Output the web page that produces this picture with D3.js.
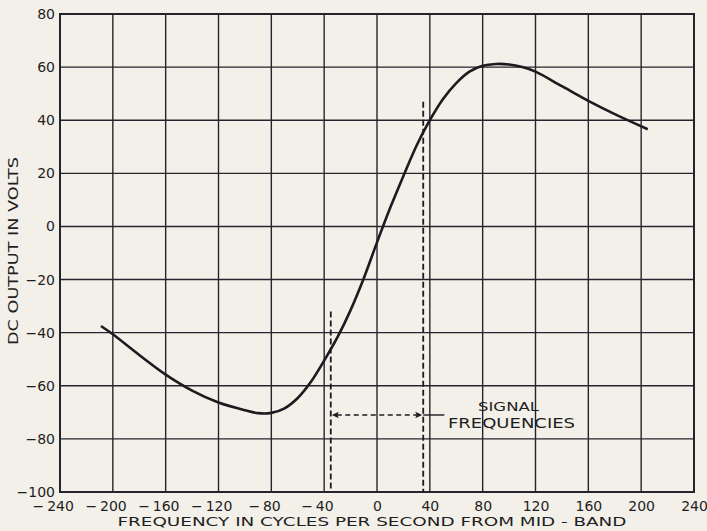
<!DOCTYPE html>
<html>
<head>
<meta charset="utf-8">
<script src="https://cdn.jsdelivr.net/npm/d3@7"></script>
<style>
  html, body { margin: 0; padding: 0; background: #f3f0e9; }
  svg { display: block; }
</style>
</head>
<body>
<svg id="chart" width="707" height="531"></svg>
<script>
// Discriminator response: DC output vs. frequency offset from mid-band
const freqHz = [-209, -200, -180, -160, -140, -120, -100, -90, -80, -70, -60, -50, -40, -30,
                -20, -10, 0, 10, 20, 30, 40, 50, 60, 70, 80, 90, 100, 110, 120,
                140, 160, 180, 205];
const dcVolts = [-37.5, -40.6, -48.4, -55.8, -61.8, -66.3, -69.2, -70.3, -70.2, -68.5, -64.6, -58.5, -50.5, -41.8,
                 -31.5, -19.5, -6, 7, 19, 30.5, 40, 48, 54, 58.3, 60.5, 61.2, 61, 60, 58.3,
                 52.8, 47.3, 42.3, 36.6];

const xTicks = [-240, -200, -160, -120, -80, -40, 0, 40, 80, 120, 160, 200, 240];
const yTicks = [-100, -80, -60, -40, -20, 0, 20, 40, 60, 80];

// Signal band edges and annotation levels (Hz / volts)
const bandEdges = [-35, 35];
const bandTops = [-32, 47];
const arrowLevel = -71;
const leaderEnd = 51;
const noteLines = ["SIGNAL", "FREQUENCIES"];

const FONT = "'DejaVu Sans', sans-serif";
const TEXT_INK = "#1e1e22";

const svg = d3.select("#chart");
const plotL = 60, plotR = 694, plotT = 14, plotB = 492;

const x = d3.scaleLinear().domain([-240, 240]).range([plotL, plotR]);
const y = d3.scaleLinear().domain([-100, 80]).range([plotB, plotT]);

const ink = "#24242c";

// grid
const g = svg.append("g");
g.selectAll("line.v").data(xTicks.slice(1, -1)).join("line")
  .attr("x1", d => x(d)).attr("x2", d => x(d))
  .attr("y1", plotT).attr("y2", plotB)
  .attr("stroke", ink).attr("stroke-width", 1.4);
g.selectAll("line.h").data(yTicks.slice(1, -1)).join("line")
  .attr("x1", plotL).attr("x2", plotR)
  .attr("y1", d => y(d)).attr("y2", d => y(d))
  .attr("stroke", ink).attr("stroke-width", 1.4);
g.append("rect")
  .attr("x", plotL).attr("y", plotT)
  .attr("width", plotR - plotL).attr("height", plotB - plotT)
  .attr("fill", "none").attr("stroke", ink).attr("stroke-width", 2);

// axes (labels only)
const xAxis = svg.append("g").attr("transform", `translate(0,${plotB})`)
  .call(d3.axisBottom(x).tickValues(xTicks).tickSize(0).tickPadding(9)
    .tickFormat(d => d < 0 ? "\u2212\u2009" + Math.abs(d) : String(d)));
xAxis.select(".domain").remove();
xAxis.selectAll("text")
  .style("font-size", "14px")
  .style("font-family", FONT)
  .style("fill", TEXT_INK)
  .attr("dx", d => d < 0 ? "-0.52em" : 0);

const yAxis = svg.append("g").attr("transform", `translate(${plotL},0)`)
  .call(d3.axisLeft(y).tickValues(yTicks).tickSize(0).tickPadding(5)
    .tickFormat(d => d < 0 ? "\u2212" + Math.abs(d) : String(d)));
yAxis.select(".domain").remove();
yAxis.selectAll("text")
  .style("font-size", "14px")
  .style("font-family", FONT)
  .style("fill", TEXT_INK);

function label(sel, size) {
  return sel.style("font-size", size + "px").style("font-family", FONT).style("fill", TEXT_INK);
}

// axis titles
label(svg.append("text"), 13)
  .attr("x", 372).attr("y", 526)
  .attr("text-anchor", "middle")
  .attr("textLength", 509).attr("lengthAdjust", "spacingAndGlyphs")
  .text("FREQUENCY IN CYCLES PER SECOND FROM MID - BAND");

label(svg.append("text"), 13.5)
  .attr("transform", "translate(18,251) rotate(-90)")
  .attr("text-anchor", "middle")
  .attr("textLength", 188).attr("lengthAdjust", "spacingAndGlyphs")
  .text("DC OUTPUT IN VOLTS");

// response curve
const line = d3.line()
  .x((d, i) => x(freqHz[i]))
  .y(d => y(d))
  .curve(d3.curveCatmullRom.alpha(0.5));
svg.append("path")
  .attr("d", line(dcVolts))
  .attr("fill", "none")
  .attr("stroke", "#1c1c20")
  .attr("stroke-width", 2.6);

// signal band markers
svg.selectAll("line.band").data(bandEdges).join("line")
  .attr("x1", d => x(d)).attr("x2", d => x(d))
  .attr("y1", (d, i) => y(bandTops[i])).attr("y2", plotB)
  .attr("stroke", "#1c1c20").attr("stroke-width", 1.8)
  .attr("stroke-dasharray", "6,3");

const ay = y(arrowLevel);
const ax0 = x(bandEdges[0]) + 1, ax1 = x(bandEdges[1]) - 1;
svg.append("line")
  .attr("x1", ax0 + 5).attr("x2", ax1 - 5)
  .attr("y1", ay).attr("y2", ay)
  .attr("stroke", "#1c1c20").attr("stroke-width", 1.4)
  .attr("stroke-dasharray", "5,3.5");
svg.append("path")
  .attr("d", `M${ax0},${ay} l7,-3.2 l-1.5,3.2 l1.5,3.2 Z`)
  .attr("fill", "#1c1c20");
svg.append("path")
  .attr("d", `M${ax1},${ay} l-7,-3.2 l1.5,3.2 l-1.5,3.2 Z`)
  .attr("fill", "#1c1c20");
svg.append("line")
  .attr("x1", x(bandEdges[1])).attr("x2", x(leaderEnd))
  .attr("y1", ay).attr("y2", ay)
  .attr("stroke", "#1c1c20").attr("stroke-width", 1.4);

label(svg.append("text"), 12.5)
  .attr("x", 508.5).attr("y", 411)
  .attr("text-anchor", "middle")
  .attr("textLength", 61).attr("lengthAdjust", "spacingAndGlyphs")
  .text(noteLines[0]);
label(svg.append("text"), 13.5)
  .attr("x", 511.5).attr("y", 427.5)
  .attr("text-anchor", "middle")
  .attr("textLength", 127).attr("lengthAdjust", "spacingAndGlyphs")
  .text(noteLines[1]);
</script>
</body>
</html>
